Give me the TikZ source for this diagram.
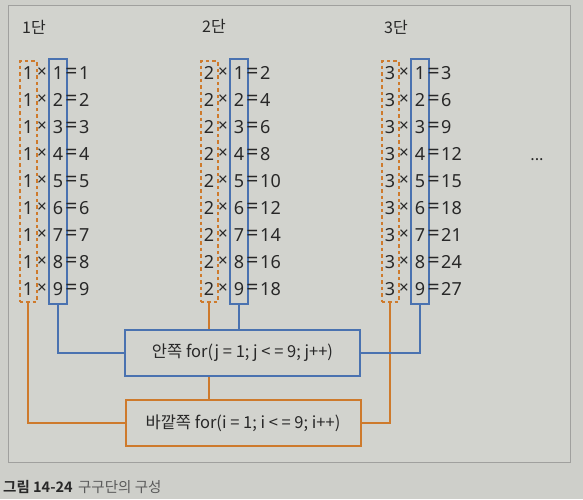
\documentclass[tikz,border=0pt]{standalone}
\usepackage{fontspec}
\setmainfont{Noto Sans CJK KR}
\newfontfamily\cjkbold{Noto Sans CJK KR}[BoldFont={* Bold}]
\newfontfamily\latfont{Noto Sans}
\definecolor{bgc}{RGB}{206,207,202}
\definecolor{panelc}{RGB}{210,211,206}
\definecolor{framec}{RGB}{160,160,158}
\definecolor{blu}{RGB}{74,114,176}
\definecolor{org}{RGB}{206,122,44}
\definecolor{txt}{RGB}{40,40,40}
\definecolor{captxt}{RGB}{90,90,90}
\begin{document}
\begin{tikzpicture}[x=1pt,y=-1pt,
  cell/.style={font=\latfont\fontsize{18}{18}\selectfont, text=txt, inner sep=0pt, anchor=center},
  res/.style={font=\latfont\fontsize{18}{18}\selectfont, text=txt, inner sep=0pt, anchor=west},
  ttl/.style={font=\fontsize{16}{16}\selectfont, text=txt, inner sep=0pt},
  dbox/.style={draw=org, line width=2pt, dash pattern=on 3.5pt off 3pt, minimum width=17pt, minimum height=241pt, inner sep=0pt},
  bbox/.style={draw=blu, line width=2pt, minimum width=18pt, minimum height=245pt, inner sep=0pt},
  loopbox/.style={line width=2pt, minimum width=235pt, minimum height=46pt, inner sep=0pt, font=\fontsize{16.5}{16.5}\selectfont, text=txt},
  bline/.style={draw=blu, line width=2pt},
  oline/.style={draw=org, line width=2pt}]
\fill[bgc] (0,0) rectangle (583,499);
\useasboundingbox (0,0) rectangle (583,499);
\draw[framec, line width=1pt, fill=panelc] (8,5) rectangle (570,462);
% titles
\node[ttl] (t1) at (34,27) {1단};
\node[ttl] (t2) at (214,26) {2단};
\node[ttl] (t3) at (396,27) {3단};
\node[ttl] (dots) at (537,160) {...};
% boxes
\foreach \c/\d in {1/28,2/209,3/390}{
  \node[dbox] (o\c) at (\d,181.5) {};
  \node[bbox] (b\c) at (\d+30,181.5) {};
}
% rows
\foreach \c/\d in {1/28,2/209,3/390}{
  \foreach \r in {1,...,9}{
    \pgfmathtruncatemacro{\prod}{\c*\r}
    \node[cell] (a\c\r) at (\d,{73+(\r-1)*27}) {\c};
    \node[cell] (x\c\r) at (\d+14,{73+(\r-1)*27}) {\fontsize{17}{17}\selectfont ×};
    \node[cell] (m\c\r) at (\d+30,{73+(\r-1)*27}) {\r};
    \node[cell] (e\c\r) at (\d+43.5,{73+(\r-1)*27}) {\fontsize{21}{21}\selectfont =};
    \node[res] (p\c\r) at (\d+51,{73+(\r-1)*27}) {\prod};
  }
}
% loop boxes
\node[loopbox, draw=blu] (inner) at (242.5,353) {안쪽 for(j = 1; j < = 9; j++)};
\node[loopbox, draw=org] (outer) at (243,423) {바깥쪽 for(i = 1; i < = 9; i++)};
% connectors
\draw[oline] (o1.south) |- (outer.west);
\draw[oline] (o3.south) |- (outer.east);
\draw[oline] (o2.south) -- (o2.south |- inner.north);
\draw[oline] (o2.south |- inner.south) -- (o2.south |- outer.north);
\draw[bline] (b1.south) |- (inner.west);
\draw[bline] (b2.south) -- (b2.south |- inner.north);
\draw[bline] (b3.south) |- (inner.east);
% caption
\node[anchor=west, inner sep=0pt, text=txt, font=\cjkbold\bfseries\fontsize{14.5}{14.5}\selectfont] (cap1) at (3,487) {그림 14-24};
\node[anchor=west, inner sep=0pt, text=captxt, font=\fontsize{14.5}{14.5}\selectfont] (cap2) at (cap1.east) {\hspace{5pt}구구단의 구성};
\end{tikzpicture}
\end{document}
